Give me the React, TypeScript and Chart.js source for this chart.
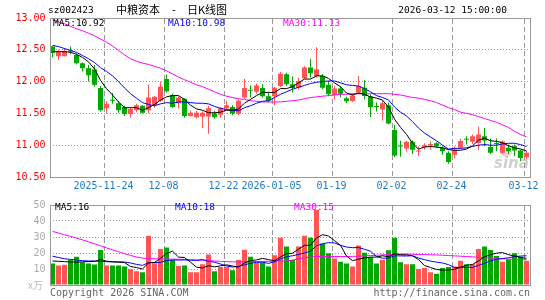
import React, { useEffect, useRef } from 'react';
import { Chart, registerables } from 'chart.js';

Chart.register(...registerables);

// ---- data (daily K line, 80 trading days) ----
const opens = [
  12.55, 12.40, 12.40, 12.48, 12.42, 12.29, 12.21, 12.19, 11.90, 11.58,
  11.71, 11.66, 11.60, 11.49, 11.55, 11.62, 11.55, 11.63, 11.70, 12.04,
  11.79, 11.66, 11.73, 11.46, 11.44, 11.45, 11.45, 11.50, 11.48, 11.58,
  11.60, 11.495, 11.75, 11.865, 11.84, 11.90, 11.77, 11.77, 11.93, 12.115,
  11.96, 11.905, 12.05, 12.22, 12.09, 12.09, 11.95, 11.79, 11.89, 11.74,
  11.695, 11.83, 11.905, 11.77, 11.615, 11.56, 11.63, 11.24, 10.99, 10.95,
  11.055, 10.90, 10.97, 10.995, 11.03, 10.96, 10.88, 10.85, 10.96, 11.095,
  11.055, 11.035, 11.14, 10.97, 11.035, 10.88, 10.96, 10.985, 10.915, 10.81,
];
const highs = [
  12.56, 12.50, 12.53, 12.55, 12.44, 12.30, 12.26, 12.26, 11.93, 11.69,
  11.82, 11.69, 11.62, 11.59, 11.65, 11.63, 11.95, 11.77, 12.00, 12.11,
  11.81, 11.77, 11.74, 11.54, 11.54, 11.53, 11.62, 11.54, 11.60, 11.70,
  11.63, 11.72, 12.04, 11.94, 11.97, 11.96, 11.83, 11.92, 12.15, 12.14,
  12.08, 12.06, 12.24, 12.35, 12.54, 12.12, 12.01, 11.93, 11.93, 11.76,
  11.81, 12.09, 12.02, 11.80, 11.67, 11.70, 11.67, 11.32, 11.07, 11.07,
  11.075, 10.98, 11.03, 11.06, 11.05, 10.985, 10.905, 10.985, 11.105, 11.14,
  11.17, 11.29, 11.27, 11.105, 11.105, 11.075, 11.01, 11.01, 10.93, 10.91,
];
const lows = [
  12.38, 12.34, 12.40, 12.43, 12.27, 12.16, 12.00, 11.92, 11.53, 11.50,
  11.65, 11.51, 11.46, 11.43, 11.52, 11.50, 11.50, 11.59, 11.68, 11.83,
  11.59, 11.58, 11.43, 11.45, 11.42, 11.27, 11.18, 11.42, 11.43, 11.56,
  11.47, 11.47, 11.73, 11.75, 11.81, 11.75, 11.67, 11.63, 11.915, 11.93,
  11.83, 11.88, 12.04, 12.06, 12.06, 11.88, 11.77, 11.72, 11.75, 11.66,
  11.68, 11.80, 11.72, 11.44, 11.53, 11.39, 11.33, 10.81, 10.82, 10.90,
  10.86, 10.83, 10.93, 10.93, 10.96, 10.85, 10.71, 10.79, 10.94, 11.01,
  11.02, 10.93, 10.985, 10.86, 10.905, 10.86, 10.86, 10.83, 10.75, 10.775,
];
const closes = [
  12.45, 12.47, 12.48, 12.47, 12.29, 12.21, 12.10, 11.95, 11.55, 11.65,
  11.70, 11.55, 11.49, 11.57, 11.63, 11.51, 11.75, 11.76, 11.92, 11.85,
  11.60, 11.75, 11.46, 11.51, 11.51, 11.51, 11.58, 11.44, 11.58, 11.63,
  11.50, 11.70, 11.90, 11.855, 11.94, 11.77, 11.70, 11.905, 12.125, 11.96,
  11.90, 12.01, 12.22, 12.13, 12.195, 11.905, 11.80, 11.89, 11.81, 11.69,
  11.78, 11.93, 11.775, 11.60, 11.60, 11.66, 11.34, 10.84, 10.98, 11.05,
  10.93, 10.91, 11.00, 11.02, 10.985, 10.905, 10.735, 10.93, 11.065, 11.085,
  11.14, 11.17, 11.075, 10.88, 11.02, 11.06, 10.905, 10.915, 10.80, 10.88,
];
const ma5 = [
  12.47, 12.47, 12.47, 12.46, 12.43, 12.38, 12.31, 12.20, 12.02, 11.89,
  11.79, 11.68, 11.59, 11.59, 11.59, 11.55, 11.59, 11.64, 11.71, 11.76,
  11.78, 11.78, 11.72, 11.63, 11.57, 11.55, 11.51, 11.51, 11.52, 11.55,
  11.55, 11.57, 11.66, 11.72, 11.78, 11.83, 11.83, 11.83, 11.89, 11.89,
  11.92, 11.98, 12.04, 12.04, 12.09, 12.09, 12.05, 11.98, 11.92, 11.82,
  11.79, 11.82, 11.80, 11.76, 11.74, 11.71, 11.60, 11.41, 11.28, 11.17,
  11.03, 10.94, 10.97, 10.98, 10.97, 10.96, 10.93, 10.92, 10.92, 10.94,
  10.99, 11.08, 11.11, 11.07, 11.06, 11.04, 10.99, 10.96, 10.94, 10.91,
];
const ma10 = [
  12.57, 12.55, 12.52, 12.49, 12.46, 12.41, 12.36, 12.30, 12.22, 12.16,
  12.09, 12.00, 11.90, 11.81, 11.74, 11.67, 11.64, 11.62, 11.65, 11.67,
  11.66, 11.68, 11.68, 11.67, 11.66, 11.66, 11.65, 11.61, 11.58, 11.56,
  11.55, 11.54, 11.59, 11.62, 11.66, 11.69, 11.70, 11.75, 11.80, 11.84,
  11.88, 11.91, 11.94, 11.97, 11.99, 12.00, 12.01, 12.01, 11.98, 11.95,
  11.94, 11.93, 11.89, 11.84, 11.78, 11.75, 11.71, 11.60, 11.52, 11.46,
  11.37, 11.27, 11.19, 11.13, 11.07, 11.00, 10.94, 10.95, 10.95, 10.96,
  10.98, 11.00, 11.01, 11.00, 11.00, 11.02, 11.03, 11.03, 11.01, 10.98,
];
const ma30 = [
  12.97, 12.94, 12.91, 12.87, 12.83, 12.80, 12.76, 12.72, 12.67, 12.62,
  12.56, 12.49, 12.42, 12.36, 12.32, 12.29, 12.27, 12.24, 12.21, 12.17,
  12.12, 12.07, 12.03, 11.99, 11.95, 11.92, 11.88, 11.84, 11.80, 11.77,
  11.75, 11.73, 11.72, 11.70, 11.69, 11.68, 11.68, 11.68, 11.68, 11.69,
  11.70, 11.71, 11.73, 11.75, 11.76, 11.77, 11.78, 11.79, 11.80, 11.80,
  11.81, 11.81, 11.81, 11.81, 11.81, 11.81, 11.81, 11.80, 11.79, 11.77,
  11.75, 11.74, 11.72, 11.70, 11.67, 11.63, 11.59, 11.56, 11.52, 11.50,
  11.48, 11.45, 11.42, 11.39, 11.36, 11.32, 11.28, 11.22, 11.17, 11.13,
];
const volumes = [
  13.4, 12.2, 12.6, 15.6, 17.6, 14.2, 13.4, 12.8, 21.9, 12.2,
  12.2, 12.2, 11.6, 9.8, 8.6, 8.0, 30.7, 13.6, 22.5, 23.5,
  15.6, 12.0, 12.2, 8.0, 8.0, 13.0, 19.1, 8.6, 11.2, 11.2,
  9.2, 15.6, 22.1, 17.6, 14.0, 14.0, 11.6, 18.6, 29.5, 24.1,
  15.6, 24.0, 30.8, 29.5, 47.0, 25.9, 19.9, 16.6, 14.6, 13.4,
  11.6, 24.7, 20.1, 17.4, 13.4, 15.8, 21.7, 29.5, 14.2, 13.0,
  13.0, 10.0, 10.6, 8.0, 7.0, 10.6, 11.2, 11.6, 15.2, 13.0,
  13.0, 22.5, 24.1, 21.9, 18.1, 14.6, 16.0, 19.9, 17.6, 15.2,
];
const volMa5 = [
  15.0, 14.8, 14.6, 14.4, 14.28, 14.44, 14.68, 14.72, 15.98, 14.90,
  14.50, 14.26, 14.02, 11.60, 10.88, 10.04, 13.74, 14.14, 16.68, 19.66,
  21.18, 17.44, 17.16, 14.26, 11.16, 10.64, 12.06, 11.34, 11.98, 12.62,
  11.86, 11.16, 13.86, 15.14, 15.70, 16.66, 15.86, 15.16, 17.54, 19.56,
  19.88, 22.36, 24.80, 24.80, 29.38, 31.44, 30.62, 27.78, 24.80, 18.08,
  15.22, 16.18, 16.88, 17.44, 17.44, 18.28, 17.68, 19.56, 18.92, 18.84,
  18.28, 15.94, 12.16, 10.92, 9.72, 9.24, 9.48, 9.68, 11.12, 12.32,
  12.80, 15.06, 17.56, 18.90, 19.92, 20.24, 18.94, 18.10, 17.24, 16.66,
];
const volMa10 = [
  18.0, 17.2, 16.4, 16.0, 15.6, 15.2, 15.0, 15.0, 14.8, 14.59,
  14.47, 14.47, 14.37, 13.79, 12.89, 12.27, 14.00, 14.08, 14.14, 15.27,
  15.61, 15.59, 15.65, 15.47, 15.41, 15.91, 14.75, 14.25, 13.12, 11.89,
  11.25, 11.61, 12.60, 13.56, 14.16, 14.26, 13.51, 14.51, 16.34, 17.63,
  18.27, 19.11, 19.98, 21.17, 24.47, 25.66, 26.49, 26.29, 24.80, 23.73,
  23.33, 23.40, 22.33, 21.12, 17.76, 16.75, 16.93, 18.22, 18.18, 18.14,
  18.28, 16.81, 15.86, 14.92, 14.28, 13.76, 12.71, 10.92, 11.02, 11.02,
  11.02, 12.27, 13.62, 15.01, 16.12, 16.52, 17.00, 17.83, 18.07, 18.29,
];
const volMa30 = [
  33.5, 32.5, 31.4, 30.4, 29.3, 28.2, 27.0, 25.8, 24.5, 23.2,
  22.0, 20.8, 19.6, 18.5, 17.5, 16.8, 16.5, 16.4, 16.3, 16.3,
  16.2, 16.1, 16.0, 15.8, 15.6, 15.5, 15.3, 15.0, 14.8, 14.6,
  14.5, 14.4, 14.5, 14.6, 14.7, 14.8, 14.8, 14.9, 15.0, 15.0,
  15.6, 16.3, 17.0, 17.5, 17.8, 17.8, 17.8, 17.8, 17.8, 17.8,
  17.9, 18.0, 18.2, 18.4, 18.6, 18.8, 19.0, 19.2, 19.3, 19.4,
  19.2, 19.1, 19.0, 18.9, 18.8, 18.6, 18.4, 18.2, 18.0, 17.8,
  17.6, 17.3, 17.0, 16.8, 16.6, 16.4, 16.2, 16.0, 15.9, 15.8,
];
const dateTickIndex = [9, 19, 29, 37, 47, 57, 67, 79];
const dateTickLabels = ['2025-11-24', '12-08', '12-22', '2026-01-05', '01-19', '02-02', '02-24', '03-12'];
const priceMin = 10.5;
const priceMax = 13.0;
const priceStep = 0.5;
const volMin = 0;
const volMax = 50;
const volStep = 10;
const stockCode = 'sz002423';
const stockName = '中粮资本';
const chartKind = '日K线图';
const timestamp = '2026-03-12 15:00:00';
const priceMaLabels = ['MA5:10.92', 'MA10:10.98', 'MA30:11.13'];
const volMaLabels = ['MA5:16', 'MA10:18', 'MA30:15'];

// ---- styles ----
const MONO = '"DejaVu Sans Mono", "Liberation Mono", monospace';
const CJK = '"Noto Sans CJK SC", sans-serif';
const UP = '#ff5555';
const DOWN = '#00a800';
const GRID = '#999999';
const FRAME = '#999999';
const MA_COLORS = ['#000000', '#0000ff', '#ff00ff'];

const slot = (i: number) => i + 0.5;
const candleColors = () => closes.map((c, i) => (c >= opens[i] ? UP : DOWN));

function dateAxis(showLabels: boolean, height: number): any {
  return {
    type: 'linear',
    min: 0,
    max: closes.length,
    offset: false,
    afterBuildTicks: (s: any) => {
      s.ticks = dateTickIndex.map((v) => ({ value: v }));
    },
    afterFit: (s: any) => {
      s.height = height;
    },
    ticks: {
      display: showLabels,
      autoSkip: false,
      maxRotation: 0,
      minRotation: 0,
      padding: 3,
      color: '#1d7ac6',
      font: { family: MONO, size: 10 },
      callback: (_v: any, idx: number) => dateTickLabels[idx],
    },
    grid: { display: false, drawTicks: false },
    border: { display: false },
  };
}

// vertical dashed date lines, placed with the x scale
function drawDateLines(chart: any) {
  const ctx = chart.ctx as CanvasRenderingContext2D;
  const a = chart.chartArea;
  const xs = chart.scales.x;
  ctx.save();
  ctx.globalCompositeOperation = 'destination-over';
  ctx.strokeStyle = '#9a9a9a';
  ctx.lineWidth = 1;
  ctx.setLineDash([5, 3]);
  for (const v of dateTickIndex) {
    const px = Math.round(xs.getPixelForValue(v)) + 0.5;
    ctx.beginPath();
    ctx.moveTo(px, Math.round(a.top) + 1);
    ctx.lineTo(px, Math.round(a.bottom));
    ctx.stroke();
  }
  ctx.restore();
}

function maLine(vals: number[], color: string): any {
  return {
    type: 'line',
    data: vals.map((y, i) => ({ x: slot(i), y })),
    borderColor: color,
    borderWidth: 1,
    pointRadius: 0,
    tension: 0,
    fill: false,
    order: 0,
  };
}

function frame(ctx: CanvasRenderingContext2D, a: any) {
  const l = Math.round(a.left);
  const r = Math.round(a.right);
  const t = Math.round(a.top);
  const b = Math.round(a.bottom);
  ctx.save();
  ctx.strokeStyle = FRAME;
  ctx.lineWidth = 1;
  ctx.setLineDash([]);
  ctx.strokeRect(l + 0.5, t + 0.5, r - l, b - t);
  ctx.restore();
}

const priceDecor = {
  id: 'priceDecor',
  beforeDatasetsDraw(chart: any) {
    const ctx = chart.ctx as CanvasRenderingContext2D;
    ctx.save();
    ctx.fillStyle = 'rgba(235,120,120,0.35)';
    ctx.beginPath();
    ctx.ellipse(506, 152, 6, 4.5, 0, 0, Math.PI * 2);
    ctx.fill();
    ctx.font = 'italic bold 15px "DejaVu Sans", sans-serif';
    ctx.fillStyle = 'rgba(150,150,150,0.45)';
    ctx.textBaseline = 'alphabetic';
    ctx.fillText('sina', 494, 168);
    ctx.restore();
  },
  afterDraw(chart: any) {
    const ctx = chart.ctx as CanvasRenderingContext2D;
    drawDateLines(chart);
    frame(ctx, chart.chartArea);
    ctx.save();
    ctx.textBaseline = 'middle';
    ctx.fillStyle = '#000';
    ctx.font = `9.5px ${MONO}`;
    ctx.textAlign = 'left';
    ctx.fillText(stockCode, 48, 11);
    ctx.textAlign = 'right';
    ctx.fillText(timestamp, 507, 11);
    ctx.textAlign = 'left';
    ctx.font = `11px ${CJK}`;
    ctx.fillText(stockName, 116, 10);
    ctx.fillText('-', 172, 10);
    ctx.fillText(chartKind, 187, 10);
    ctx.font = `9.5px ${MONO}`;
    const xs = [53, 168, 283];
    priceMaLabels.forEach((t, i) => {
      ctx.fillStyle = MA_COLORS[i];
      ctx.fillText(t, xs[i], 24);
    });
    ctx.restore();
  },
};

const volDecor = {
  id: 'volDecor',
  afterDraw(chart: any) {
    const ctx = chart.ctx as CanvasRenderingContext2D;
    drawDateLines(chart);
    frame(ctx, chart.chartArea);
    ctx.save();
    ctx.textBaseline = 'middle';
    ctx.textAlign = 'left';
    ctx.font = `9.5px ${MONO}`;
    const xs = [55, 175, 294];
    volMaLabels.forEach((t, i) => {
      ctx.fillStyle = MA_COLORS[i];
      ctx.fillText(t, xs[i], 13);
    });
    ctx.fillStyle = '#bbbbbb';
    ctx.font = `10px ${CJK}`;
    ctx.fillText('x万', 28, 90);
    ctx.fillStyle = '#666666';
    ctx.font = `10px ${MONO}`;
    ctx.fillText('Copyright 2026 SINA.COM', 50, 98);
    ctx.textAlign = 'right';
    ctx.fillText('http://finance.sina.com.cn', 530, 98);
    ctx.restore();
  },
};

function PriceChart() {
  const ref = useRef<HTMLCanvasElement>(null);
  useEffect(() => {
    const colors = candleColors();
    const chart = new Chart(ref.current as HTMLCanvasElement, {
      type: 'bar',
      data: {
        datasets: [
          maLine(ma5, MA_COLORS[0]),
          maLine(ma10, MA_COLORS[1]),
          maLine(ma30, MA_COLORS[2]),
          {
            type: 'bar',
            data: lows.map((l, i) => ({ x: slot(i), y: [l, highs[i]] })),
            backgroundColor: colors,
            barThickness: 1,
            grouped: false,
            inflateAmount: 0,
            borderWidth: 0,
            order: 2,
          } as any,
          {
            type: 'bar',
            data: opens.map((o, i) => ({ x: slot(i), y: [o, closes[i]] })),
            backgroundColor: colors,
            barThickness: 5,
            grouped: false,
            inflateAmount: 0,
            borderWidth: 0,
            minBarLength: 1,
            order: 1,
          } as any,
        ],
      },
      options: {
        animation: false,
        responsive: false,
        events: [],
        layout: { padding: { top: 18, right: 15.5, left: 0, bottom: 0 } },
        plugins: { legend: { display: false }, tooltip: { enabled: false } },
        scales: {
          x: dateAxis(true, 18),
          y: {
            type: 'linear',
            min: priceMin,
            max: priceMax,
            afterFit: (s: any) => {
              s.width = 49.5;
            },
            ticks: {
              stepSize: priceStep,
              autoSkip: false,
              padding: 4,
              color: '#ff0000',
              font: { family: MONO, size: 10 },
              callback: (v: any) => Number(v).toFixed(2),
            },
            grid: { color: GRID, lineWidth: 1, drawTicks: false },
            border: { display: false, dash: [1, 2] },
          },
        },
      } as any,
      plugins: [priceDecor],
    });
    return () => chart.destroy();
  }, []);
  return (
    <canvas
      ref={ref}
      width={545}
      height={195}
      style={{ position: 'absolute', left: 0, top: 0, display: 'block' }}
    />
  );
}

function VolumeChart() {
  const ref = useRef<HTMLCanvasElement>(null);
  useEffect(() => {
    const colors = candleColors();
    const chart = new Chart(ref.current as HTMLCanvasElement, {
      type: 'bar',
      data: {
        datasets: [
          maLine(volMa5, MA_COLORS[0]),
          maLine(volMa10, MA_COLORS[1]),
          maLine(volMa30, MA_COLORS[2]),
          {
            type: 'bar',
            data: volumes.map((v, i) => ({ x: slot(i), y: v })),
            backgroundColor: colors,
            barThickness: 5,
            grouped: false,
            inflateAmount: 0,
            borderWidth: 0,
            order: 1,
          } as any,
        ],
      },
      options: {
        animation: false,
        responsive: false,
        events: [],
        layout: { padding: { top: 6, right: 15.5, left: 0, bottom: 0 } },
        plugins: { legend: { display: false }, tooltip: { enabled: false } },
        scales: {
          x: dateAxis(false, 15),
          y: {
            type: 'linear',
            min: volMin,
            max: volMax,
            afterFit: (s: any) => {
              s.width = 49.5;
            },
            ticks: {
              stepSize: volStep,
              autoSkip: false,
              padding: 4,
              color: '#aaaaaa',
              font: { family: MONO, size: 10 },
              callback: (v: any) => (Number(v) === 0 ? '' : String(v)),
            },
            grid: { color: GRID, lineWidth: 1, drawTicks: false },
            border: { display: false, dash: [1, 2] },
          },
        },
      } as any,
      plugins: [volDecor],
    });
    return () => chart.destroy();
  }, []);
  return (
    <canvas
      ref={ref}
      width={545}
      height={105}
      style={{ position: 'absolute', left: 0, top: 195, display: 'block' }}
    />
  );
}

export default function App() {
  return (
    <div
      style={{
        position: 'fixed',
        left: 0,
        top: 0,
        width: 545,
        height: 300,
        background: '#ffffff',
        overflow: 'hidden',
      }}
    >
      <PriceChart />
      <VolumeChart />
    </div>
  );
}
